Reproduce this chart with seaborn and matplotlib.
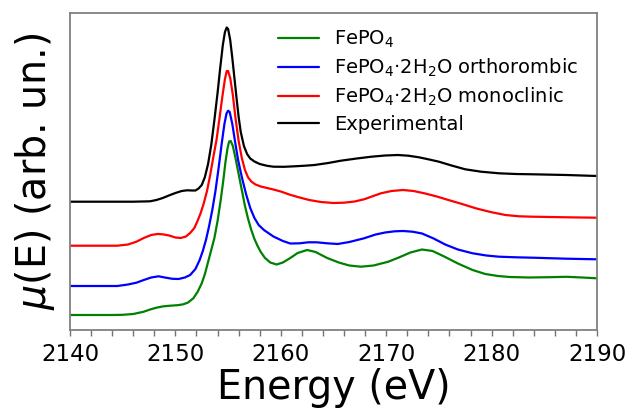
import matplotlib
matplotlib.use("Agg")
import matplotlib.pyplot as plt
import pandas as pd
import seaborn as sns

# Fe K-edge XANES spectra, vertically offset (arbitrary units)
e_fepo4 = [2140, 2144, 2145, 2146, 2147, 2147.6, 2148.2, 2148.8, 2149.5, 2150.2,
           2150.75, 2151.2, 2151.7, 2152.1, 2152.5, 2152.8, 2153.1, 2153.4, 2153.7,
           2154.0, 2154.3, 2154.55, 2154.75, 2154.95, 2155.1, 2155.25, 2155.45,
           2155.7, 2156.0, 2156.3, 2156.6, 2156.9, 2157.2, 2157.5, 2157.8, 2158.1,
           2158.5, 2159.0, 2159.6, 2160.2, 2160.9, 2161.6, 2162.5, 2163.3, 2164.4,
           2165.5, 2166.5, 2167.6, 2168.8, 2170.2, 2171.2, 2172.3, 2173.4, 2174.4,
           2175.6, 2176.8, 2178.2, 2179.4, 2180.6, 2181.7, 2183.5, 2185.5, 2187.1,
           2188.6, 2190]
mu_fepo4 = [15, 15, 15.2, 16, 18.3, 20.5, 22.3, 23.6, 24.3, 24.8,
            25.7, 27.5, 31.7, 38, 46.7, 56, 68, 80, 92,
            109, 130, 150, 168, 182, 188.5, 189, 184,
            172, 156, 140, 124, 111, 100, 91, 84, 78,
            72, 67.5, 65.5, 67.5, 72, 77, 80, 78, 72,
            67.5, 64.5, 63.3, 64.5, 68.3, 72.5, 77.5, 80.5, 79,
            73, 66.5, 60, 56, 54, 53, 52.5, 52.8, 53.2,
            52.5, 51.7]

e_ortho = [2140, 2144.5, 2145.5, 2146.3, 2147.0, 2147.7, 2148.4, 2149.0, 2149.7, 2150.3,
           2150.9, 2151.4, 2151.9, 2152.3, 2152.6, 2152.9, 2153.2, 2153.5, 2153.8,
           2154.1, 2154.4, 2154.65, 2154.85, 2155.0, 2155.15, 2155.4, 2155.65,
           2155.95, 2156.3, 2156.7, 2157.1, 2157.5, 2157.9, 2158.4, 2159.3, 2160.2,
           2160.9, 2161.8, 2162.6, 2163.4, 2164.4, 2165.4, 2166.5, 2167.9, 2169.0,
           2169.9, 2170.8, 2171.6, 2172.5, 2173.4, 2174.5, 2175.6, 2176.8, 2178.2,
           2179.5, 2180.7, 2182.3, 2183.9, 2187.1, 2190]
mu_ortho = [44, 44, 45.5, 47.3, 50, 52.5, 53.7, 52.5, 51.2, 51,
            52.5, 55, 61, 70, 79, 90, 104, 120, 139,
            162, 187, 206, 216.5, 219.3, 218, 206, 189,
            170, 153, 136, 122, 112, 105, 100, 93.5, 89,
            86.5, 86.7, 87.7, 87.7, 86.7, 86, 88, 91.7, 95.5,
            97.5, 98.7, 99, 98.3, 96.5, 91.5, 85.5, 80.5, 76.7,
            74.5, 73.3, 72.7, 72.3, 71.3, 70.7]

e_mono = [2140, 2144.5, 2145.5, 2146.3, 2147.0, 2147.7, 2148.3, 2148.8, 2149.4, 2150.0,
          2150.5, 2151.0, 2151.4, 2151.8, 2152.1, 2152.4, 2152.7, 2153.0, 2153.3,
          2153.6, 2153.9, 2154.2, 2154.45, 2154.7, 2154.87, 2155.0, 2155.2, 2155.45,
          2155.7, 2156.0, 2156.3, 2156.6, 2156.9, 2157.2, 2157.6, 2158.1, 2158.7,
          2159.3, 2160.0, 2160.8, 2161.6, 2162.7, 2163.8, 2165.0, 2166.0, 2167.0,
          2167.9, 2168.7, 2169.5, 2170.5, 2171.6, 2172.6, 2173.7, 2174.8, 2175.9,
          2177.2, 2178.5, 2179.9, 2181.3, 2182.6, 2183.9, 2187.1, 2190]
mu_mono = [84.3, 84.3, 85.5, 88.3, 92, 95, 96, 95.7, 94.5, 92.5,
           92, 93.5, 97, 102, 109, 117, 127, 139, 155,
           173, 190, 213, 233, 251, 259, 259, 252, 235,
           212, 189, 172, 160, 152.5, 148.5, 145.5, 143.5, 142,
           140.5, 138.5, 135.5, 133, 130, 128, 127, 127.3, 128.5,
           130.7, 133.7, 136.7, 139, 140, 139, 136.5, 133.5, 130,
           126, 121.7, 118, 115, 113.7, 113.3, 112.7, 112.3]

e_exp = [2140, 2146, 2147.6, 2148.2, 2148.8, 2149.5, 2150.0, 2150.6, 2151.1, 2151.6,
         2151.9, 2152.2, 2152.5, 2152.8, 2153.1, 2153.4, 2153.7, 2154.0, 2154.25,
         2154.5, 2154.7, 2154.87, 2155.0, 2155.2, 2155.4, 2155.6, 2155.8, 2156.0,
         2156.2, 2156.5, 2156.8, 2157.1, 2157.5, 2158.0, 2158.7, 2159.3, 2160.3,
         2161.3, 2162.3, 2163.2, 2164.5, 2165.7, 2167.2, 2168.6, 2169.9, 2171.1,
         2172.1, 2173.1, 2174.0, 2175.0, 2176.2, 2177.5, 2179.0, 2180.7, 2182.3,
         2183.9, 2187.1, 2190]
mu_exp = [128.3, 128.3, 128.7, 130, 132, 135, 137, 139, 139.7, 139.5,
          139.5, 141.5, 145, 153, 166, 185, 210, 237, 262,
          285, 298, 302.5, 301, 290, 272, 252, 232, 213,
          198, 184, 176, 171.5, 168.5, 166, 164.2, 163.3, 163.2,
          163.7, 164.3, 165, 167, 169.3, 171.5, 173.3, 174.5, 175,
          174.3, 172.7, 170.7, 168.3, 164.5, 160.7, 158.3, 156.7, 156,
          155.7, 155, 154]

labels = ["FePO$_4$", "FePO$_4$·2H$_2$O orthorombic",
          "FePO$_4$·2H$_2$O monoclinic", "Experimental"]
colors = ["#008000", "#0000ff", "#ff0000", "#000000"]
x_ticks = [2140, 2150, 2160, 2170, 2180, 2190]

sns.set_style("ticks")
plt.rcParams["font.family"] = ["DejaVu Sans"]
plt.rcParams["mathtext.fontset"] = "dejavusans"
plt.rcParams["text.color"] = "black"
plt.rcParams["axes.labelcolor"] = "black"
plt.rcParams["xtick.labelcolor"] = "black"

frames = []
for lab, e, mu in zip(labels, [e_fepo4, e_ortho, e_mono, e_exp],
                      [mu_fepo4, mu_ortho, mu_mono, mu_exp]):
    frames.append(pd.DataFrame({"Energy": e, "mu": mu, "sample": lab}))
df = pd.concat(frames, ignore_index=True)

fig = plt.figure(figsize=(6.27, 4.12), dpi=100)
ax = fig.add_axes([70 / 627, (412 - 330) / 412, 527 / 627, 317.3 / 412])

for lab, col in zip(labels, colors):
    sub = df[df["sample"] == lab]
    sns.lineplot(data=sub, x="Energy", y="mu", color=col, lw=1.6,
                 label=lab, ax=ax, sort=False, estimator=None)

ax.set_xlim(2140, 2190)
ax.set_ylim(0, 317.3)
ax.set_xticks(x_ticks)
ax.set_xticks(range(2140, 2191, 2), minor=True)
ax.set_yticks([])
ax.tick_params(axis="x", which="both", direction="out", length=4.5, width=1,
               color="0.45", labelsize=16.5, pad=5)
for sp in ax.spines.values():
    sp.set_color("0.5")
    sp.set_linewidth(1.3)

ax.set_xlabel("Energy (eV)", fontsize=28.5, labelpad=1)
ax.set_ylabel("$\\mu$(E) (arb. un.)", fontsize=28.5, labelpad=9)

ax.legend(loc="upper left", bbox_to_anchor=(0.38, 0.975), frameon=False,
          fontsize=14, handlelength=2.1, handletextpad=0.8, labelspacing=0.35,
          borderaxespad=0)

fig.savefig("out.png", dpi=100)
